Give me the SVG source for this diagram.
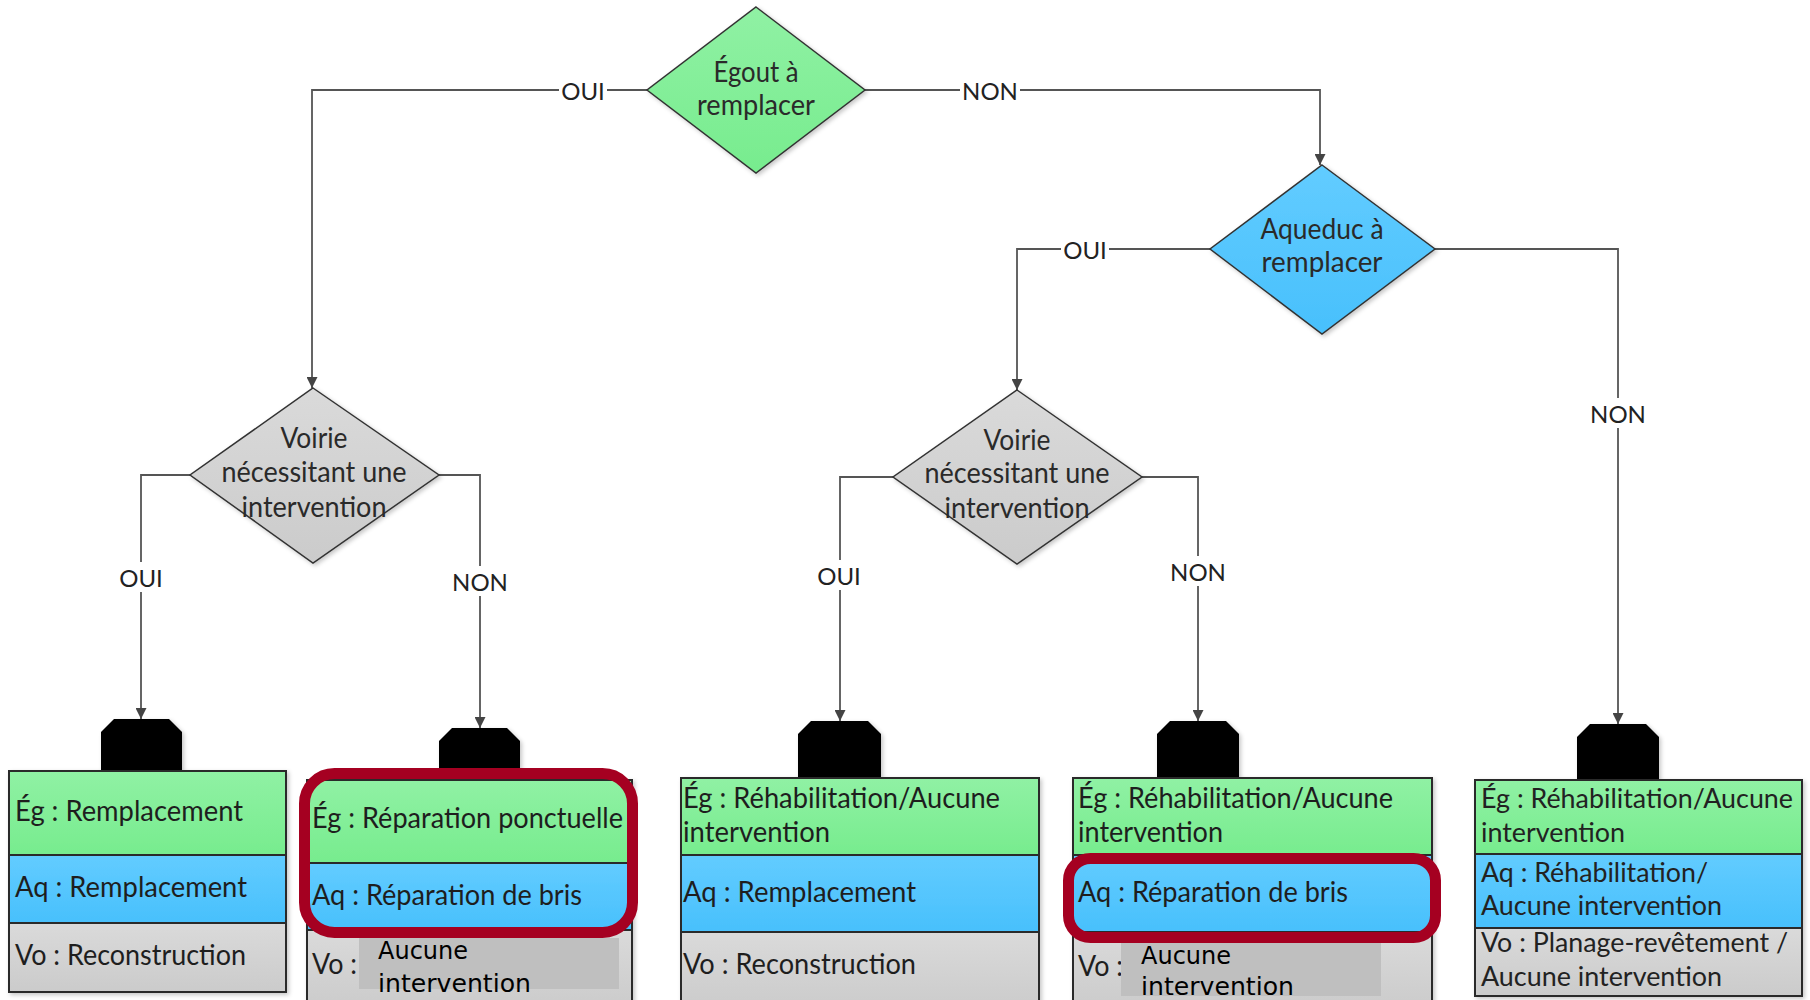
<svg xmlns="http://www.w3.org/2000/svg" width="1810" height="1000" viewBox="0 0 1810 1000">
<style>
.t{font-family:Lato,"Liberation Sans",sans-serif;fill:#222;}
.dt{font-family:Lato,"Liberation Sans",sans-serif;fill:#2a2a2a;font-size:28px;text-anchor:middle;}
.bt{font-family:Lato,"Liberation Sans",sans-serif;fill:#1e1e1e;font-size:28px;}
.bt5{font-family:Lato,"Liberation Sans",sans-serif;fill:#222;font-size:26px;}
.lbl{font-family:Lato,"Liberation Sans",sans-serif;fill:#222;font-size:24px;text-anchor:middle;dominant-baseline:central;}
.lb{fill:#fff;}
.ln{fill:none;stroke:#555;stroke-width:1.8;}
.dia{stroke:#333;stroke-width:1.5;}
.cell{stroke:#2b2b2b;stroke-width:2;}
.blk{fill:#000;}
.red{fill:none;stroke:#A50021;stroke-width:11;}
.vo{fill:#BFBFBF;}
.vt{font-family:"DejaVu Sans",Verdana,sans-serif;fill:#000;font-size:24px;}
</style>
<defs>
<linearGradient id="gG" x1="0" y1="0" x2="0" y2="1"><stop offset="0" stop-color="#90F1A4"/><stop offset="1" stop-color="#77EC8E"/></linearGradient>
<linearGradient id="gB" x1="0" y1="0" x2="0" y2="1"><stop offset="0" stop-color="#62CCFF"/><stop offset="1" stop-color="#48C0FC"/></linearGradient>
<linearGradient id="gY" x1="0" y1="0" x2="0" y2="1"><stop offset="0" stop-color="#DADADA"/><stop offset="1" stop-color="#CBCBCB"/></linearGradient>
<filter id="sh" x="-10%" y="-10%" width="130%" height="130%"><feDropShadow dx="2" dy="2" stdDeviation="2" flood-color="#000" flood-opacity="0.22"/></filter>
<marker id="ar" viewBox="0 0 10 10" refX="10" refY="5" markerWidth="11" markerHeight="11" markerUnits="userSpaceOnUse" orient="auto"><path d="M0,0 L10,5 L0,10 z" fill="#444"/></marker>
</defs>
<rect width="1810" height="1000" fill="#fff"/>

<g id="connectors">
<path class="ln" d="M647,90 H312 V388" marker-end="url(#ar)"/>
<path class="ln" d="M865,90 H1320 V165" marker-end="url(#ar)"/>
<path class="ln" d="M1210,249 H1017 V390" marker-end="url(#ar)"/>
<path class="ln" d="M1435,249 H1618 V724" marker-end="url(#ar)"/>
<path class="ln" d="M190,475 H141 V719" marker-end="url(#ar)"/>
<path class="ln" d="M439,475 H480 V728" marker-end="url(#ar)"/>
<path class="ln" d="M893,477 H840 V721" marker-end="url(#ar)"/>
<path class="ln" d="M1142,477 H1198 V721" marker-end="url(#ar)"/>
<rect class="lb" x="559" y="76" width="48" height="28"/><text class="lbl" x="583" y="90">OUI</text>
<rect class="lb" x="960" y="76" width="60" height="28"/><text class="lbl" x="990" y="90">NON</text>
<rect class="lb" x="1061" y="235" width="48" height="28"/><text class="lbl" x="1085" y="249">OUI</text>
<rect class="lb" x="1588" y="398" width="60" height="30"/><text class="lbl" x="1618" y="413">NON</text>
<rect class="lb" x="117" y="562" width="48" height="30"/><text class="lbl" x="141" y="577">OUI</text>
<rect class="lb" x="450" y="566" width="60" height="30"/><text class="lbl" x="480" y="581">NON</text>
<rect class="lb" x="815" y="560" width="48" height="30"/><text class="lbl" x="839" y="575">OUI</text>
<rect class="lb" x="1168" y="556" width="60" height="30"/><text class="lbl" x="1198" y="571">NON</text>
</g>

<g id="n-egout">
<polygon class="dia" points="756,7 865,90 756,173 647,90" fill="url(#gG)" filter="url(#sh)"/>
<text class="dt" x="756" y="82" textLength="85" lengthAdjust="spacingAndGlyphs">Égout à</text>
<text class="dt" x="756" y="115" textLength="118" lengthAdjust="spacingAndGlyphs">remplacer</text>
</g>

<g id="n-aqueduc">
<polygon class="dia" points="1322,165 1435,249 1322,334 1210,249" fill="url(#gB)" filter="url(#sh)"/>
<text class="dt" x="1322" y="239" textLength="123" lengthAdjust="spacingAndGlyphs">Aqueduc à</text>
<text class="dt" x="1322" y="272" textLength="121" lengthAdjust="spacingAndGlyphs">remplacer</text>
</g>

<g id="n-voirie1">
<polygon class="dia" points="313,388 439,475 313,563 190,475" fill="url(#gY)" filter="url(#sh)"/>
<text class="dt" x="314" y="448" textLength="67" lengthAdjust="spacingAndGlyphs">Voirie</text>
<text class="dt" x="314" y="482" textLength="185" lengthAdjust="spacingAndGlyphs">nécessitant une</text>
<text class="dt" x="314" y="517" textLength="145" lengthAdjust="spacingAndGlyphs">intervention</text>
</g>

<g id="n-voirie2">
<polygon class="dia" points="1017,390 1142,477 1017,564 893,477" fill="url(#gY)" filter="url(#sh)"/>
<text class="dt" x="1017" y="450" textLength="67" lengthAdjust="spacingAndGlyphs">Voirie</text>
<text class="dt" x="1017" y="483" textLength="185" lengthAdjust="spacingAndGlyphs">nécessitant une</text>
<text class="dt" x="1017" y="518" textLength="145" lengthAdjust="spacingAndGlyphs">intervention</text>
</g>

<g id="n-result1">
<polygon class="blk" points="114,719 169,719 182,732 182,771 101,771 101,732" filter="url(#sh)"/>
<g filter="url(#sh)">
<rect class="cell" x="9" y="771" width="277" height="84" fill="url(#gG)"/>
<rect class="cell" x="9" y="855" width="277" height="68" fill="url(#gB)"/>
<rect class="cell" x="9" y="923" width="277" height="69" fill="url(#gY)"/>
</g>
<text class="bt" x="15" y="821" textLength="228" lengthAdjust="spacingAndGlyphs">Ég : Remplacement</text>
<text class="bt" x="15" y="897" textLength="232" lengthAdjust="spacingAndGlyphs">Aq : Remplacement</text>
<text class="bt" x="15" y="965" textLength="231" lengthAdjust="spacingAndGlyphs">Vo : Reconstruction</text>
</g>

<g id="n-result2">
<polygon class="blk" points="452,728 507,728 520,741 520,780 439,780 439,741" filter="url(#sh)"/>
<g filter="url(#sh)">
<rect class="cell" x="307" y="780" width="325" height="83" fill="url(#gG)"/>
<rect class="cell" x="307" y="863" width="325" height="67" fill="url(#gB)"/>
<rect class="cell" x="307" y="930" width="325" height="80" fill="url(#gY)"/>
</g>
<text class="bt" x="312" y="828" textLength="311" lengthAdjust="spacingAndGlyphs">Ég : Réparation ponctuelle</text>
<text class="bt" x="312" y="905" textLength="270" lengthAdjust="spacingAndGlyphs">Aq : Réparation de bris</text>
<text class="bt" x="312" y="974" textLength="45" lengthAdjust="spacingAndGlyphs">Vo :</text>
<rect class="vo" x="359" y="938" width="260" height="51"/>
<text class="vt" x="378" y="959">Aucune</text>
<text class="vt" x="378" y="992" textLength="153" lengthAdjust="spacingAndGlyphs">intervention</text>
<rect class="red" x="304.5" y="773.5" width="328" height="159" rx="30"/>
</g>

<g id="n-result3">
<polygon class="blk" points="811,721 868,721 881,734 881,778 798,778 798,734" filter="url(#sh)"/>
<g filter="url(#sh)">
<rect class="cell" x="681" y="778" width="358" height="77" fill="url(#gG)"/>
<rect class="cell" x="681" y="855" width="358" height="77" fill="url(#gB)"/>
<rect class="cell" x="681" y="932" width="358" height="78" fill="url(#gY)"/>
</g>
<text class="bt" x="683" y="808" textLength="317" lengthAdjust="spacingAndGlyphs">Ég : Réhabilitation/Aucune</text>
<text class="bt" x="683" y="842" textLength="147" lengthAdjust="spacingAndGlyphs">intervention</text>
<text class="bt" x="683" y="902" textLength="233" lengthAdjust="spacingAndGlyphs">Aq : Remplacement</text>
<text class="bt" x="683" y="974" textLength="233" lengthAdjust="spacingAndGlyphs">Vo : Reconstruction</text>
</g>

<g id="n-result4">
<polygon class="blk" points="1170,721 1226,721 1239,734 1239,778 1157,778 1157,734" filter="url(#sh)"/>
<g filter="url(#sh)">
<rect class="cell" x="1073" y="778" width="359" height="77" fill="url(#gG)"/>
<rect class="cell" x="1073" y="855" width="359" height="77" fill="url(#gB)"/>
<rect class="cell" x="1073" y="932" width="359" height="78" fill="url(#gY)"/>
</g>
<text class="bt" x="1078" y="808" textLength="315" lengthAdjust="spacingAndGlyphs">Ég : Réhabilitation/Aucune</text>
<text class="bt" x="1078" y="842" textLength="145" lengthAdjust="spacingAndGlyphs">intervention</text>
<text class="bt" x="1078" y="902" textLength="270" lengthAdjust="spacingAndGlyphs">Aq : Réparation de bris</text>
<text class="bt" x="1078" y="976" textLength="45" lengthAdjust="spacingAndGlyphs">Vo :</text>
<rect class="vo" x="1121" y="943" width="260" height="53"/>
<text class="vt" x="1141" y="964">Aucune</text>
<text class="vt" x="1141" y="995" textLength="153" lengthAdjust="spacingAndGlyphs">intervention</text>
<rect class="red" x="1068.5" y="858.5" width="367" height="79" rx="22"/>
</g>

<g id="n-result5">
<polygon class="blk" points="1590,724 1646,724 1659,737 1659,780 1577,780 1577,737" filter="url(#sh)"/>
<g filter="url(#sh)">
<rect class="cell" x="1475" y="780" width="327" height="74" fill="url(#gG)"/>
<rect class="cell" x="1475" y="854" width="327" height="74" fill="url(#gB)"/>
<rect class="cell" x="1475" y="928" width="327" height="68" fill="url(#gY)"/>
</g>
<text class="bt5" x="1481" y="808" textLength="312" lengthAdjust="spacingAndGlyphs">Ég : Réhabilitation/Aucune</text>
<text class="bt5" x="1481" y="842" textLength="144" lengthAdjust="spacingAndGlyphs">intervention</text>
<text class="bt5" x="1481" y="882" textLength="227" lengthAdjust="spacingAndGlyphs">Aq : Réhabilitation/</text>
<text class="bt5" x="1481" y="915" textLength="241" lengthAdjust="spacingAndGlyphs">Aucune intervention</text>
<text class="bt5" x="1481" y="952" textLength="307" lengthAdjust="spacingAndGlyphs">Vo : Planage-revêtement /</text>
<text class="bt5" x="1481" y="986" textLength="241" lengthAdjust="spacingAndGlyphs">Aucune intervention</text>
</g>
</svg>
